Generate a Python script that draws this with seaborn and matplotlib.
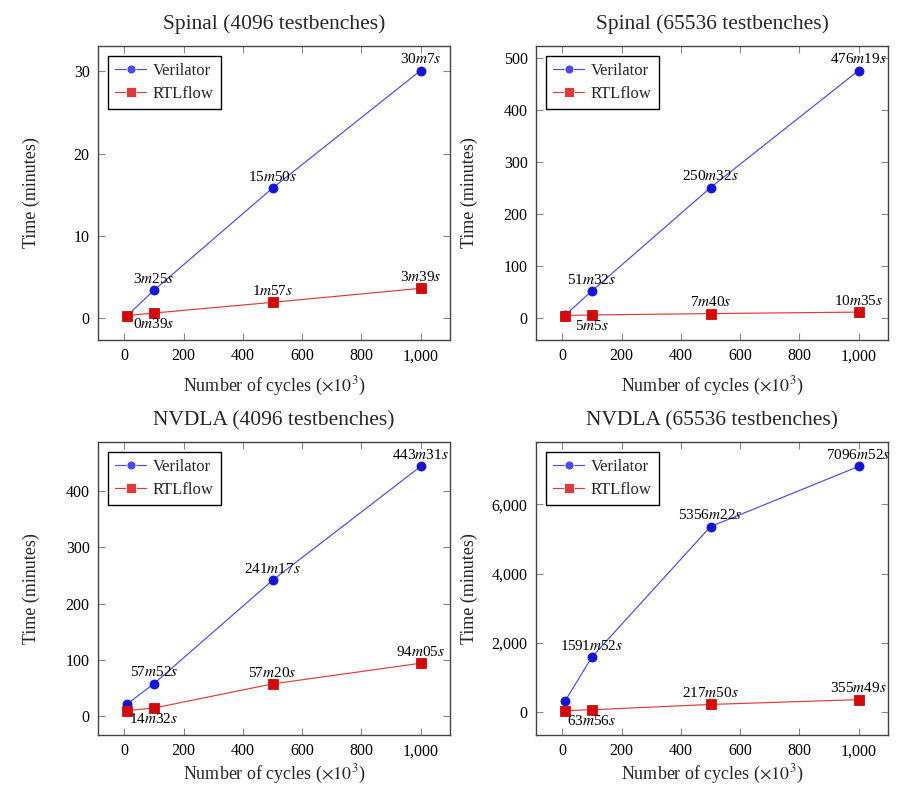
import numpy as np
import pandas as pd
import matplotlib
matplotlib.use("Agg")
import matplotlib.pyplot as plt
import seaborn as sns
from matplotlib.ticker import FuncFormatter, MultipleLocator

sns.set_theme(style="white")
plt.rcParams['font.family'] = ['Liberation Serif', 'DejaVu Serif']
plt.rcParams['mathtext.fontset'] = 'stix'

cycles = [10, 100, 500, 1000]

titles = ["Spinal (4096 testbenches)", "Spinal (65536 testbenches)",
          "NVDLA (4096 testbenches)", "NVDLA (65536 testbenches)"]

verilator = [
    [0.35, 3.42, 15.83, 30.12],
    [5.0, 51.53, 250.53, 476.32],
    [22.0, 57.87, 241.28, 443.52],
    [330.0, 1591.87, 5356.37, 7096.87],
]
rtlflow = [
    [0.35, 0.65, 1.95, 3.65],
    [4.0, 5.08, 7.67, 10.58],
    [10.0, 14.53, 57.33, 94.08],
    [40.0, 63.93, 217.83, 355.82],
]
verilator_labels = [
    [None, "3m25s", "15m50s", "30m7s"],
    [None, "51m32s", "250m32s", "476m19s"],
    [None, "57m52s", "241m17s", "443m31s"],
    [None, "1591m52s", "5356m22s", "7096m52s"],
]
rtlflow_labels = [
    [None, "0m39s", "1m57s", "3m39s"],
    [None, "5m5s", "7m40s", "10m35s"],
    [None, "14m32s", "57m20s", "94m05s"],
    [None, "63m56s", "217m50s", "355m49s"],
]
ytick_step = [10, 100, 100, 2000]


def fmt_label(s):
    out = ""
    for ch in s:
        if ch in "ms":
            out += r"$\mathit{" + ch + "}$"
        else:
            out += ch
    return out


comma = FuncFormatter(lambda v, p: f"{int(round(v)):,}")

fig = plt.figure(figsize=(8.97, 7.88), dpi=100)
W, H = 897, 788
boxes = [(98, 46, 450, 340), (536, 46, 888, 340),
         (98, 442, 450, 735), (536, 442, 888, 735)]

for i in range(4):
    x0, y0, x1, y1 = boxes[i]
    ax = fig.add_axes([x0 / W, 1 - y1 / H, (x1 - x0) / W, (y1 - y0) / H])
    df = pd.DataFrame({
        "cycles": cycles * 2,
        "time": verilator[i] + rtlflow[i],
        "tool": ["Verilator"] * 4 + ["RTLflow"] * 4,
    })
    sns.lineplot(data=df, x="cycles", y="time", hue="tool", style="tool",
                 palette={"Verilator": "#4a4aee", "RTLflow": "#e03a3a"},
                 markers={"Verilator": "o", "RTLflow": "s"}, dashes=False,
                 markersize=6.5, linewidth=0.85, markeredgewidth=0.6,
                 ax=ax, legend=True)
    for line, mc in zip(ax.lines[:2], ["#1414d2", "#d20a0a"]):
        line.set_markerfacecolor(mc)
        line.set_markeredgecolor(mc)

    allv = verilator[i] + rtlflow[i]
    lo, hi = min(allv), max(allv)
    pad = 0.1 * (hi - lo)
    ax.set_ylim(lo - pad, hi + pad)
    xpad = 0.1 * (max(cycles) - min(cycles))
    ax.set_xlim(min(cycles) - xpad, max(cycles) + xpad)

    for xv, yv, lab in zip(cycles, verilator[i], verilator_labels[i]):
        if lab:
            ax.annotate(fmt_label(lab), (xv, yv), xytext=(0, 3),
                        textcoords="offset points", ha="center", va="bottom",
                        fontsize=11, color="black")
    for j, (xv, yv, lab) in enumerate(zip(cycles, rtlflow[i], rtlflow_labels[i])):
        if lab:
            if j == 1:
                ax.annotate(fmt_label(lab), (xv, yv), xytext=(0, -3),
                            textcoords="offset points", ha="center", va="top",
                            fontsize=11, color="black")
            else:
                ax.annotate(fmt_label(lab), (xv, yv), xytext=(0, 3),
                            textcoords="offset points", ha="center", va="bottom",
                            fontsize=11, color="black")

    ax.xaxis.set_major_locator(MultipleLocator(200))
    ax.yaxis.set_major_locator(MultipleLocator(ytick_step[i]))
    ax.xaxis.set_major_formatter(comma)
    ax.yaxis.set_major_formatter(comma)
    ax.tick_params(direction="in", length=5, width=0.8, color="#888888",
                   top=True, right=True, bottom=True, left=True,
                   labelsize=11.5, labelcolor="black", pad=6)
    for sp in ax.spines.values():
        sp.set_color("#444444")
        sp.set_linewidth(1.0)
    ax.set_xlabel(r"Number of cycles ($\times10^3$)", fontsize=13)
    ax.xaxis.set_label_coords(0.5, -0.12 if i < 2 else -0.095)
    ax.set_ylabel("Time (minutes)", fontsize=13)
    ax.yaxis.set_label_coords(-0.165, 0.5)
    ax.set_title(titles[i], fontsize=15.5, pad=12)

    leg = ax.legend(loc="upper left", fontsize=12, frameon=True, fancybox=False,
                    edgecolor="black", framealpha=1, borderpad=0.4,
                    handlelength=1.9, handletextpad=0.4, labelspacing=0.45,
                    borderaxespad=0.6)
    leg.get_frame().set_linewidth(1.0)

fig.savefig("out.png", dpi=100)
